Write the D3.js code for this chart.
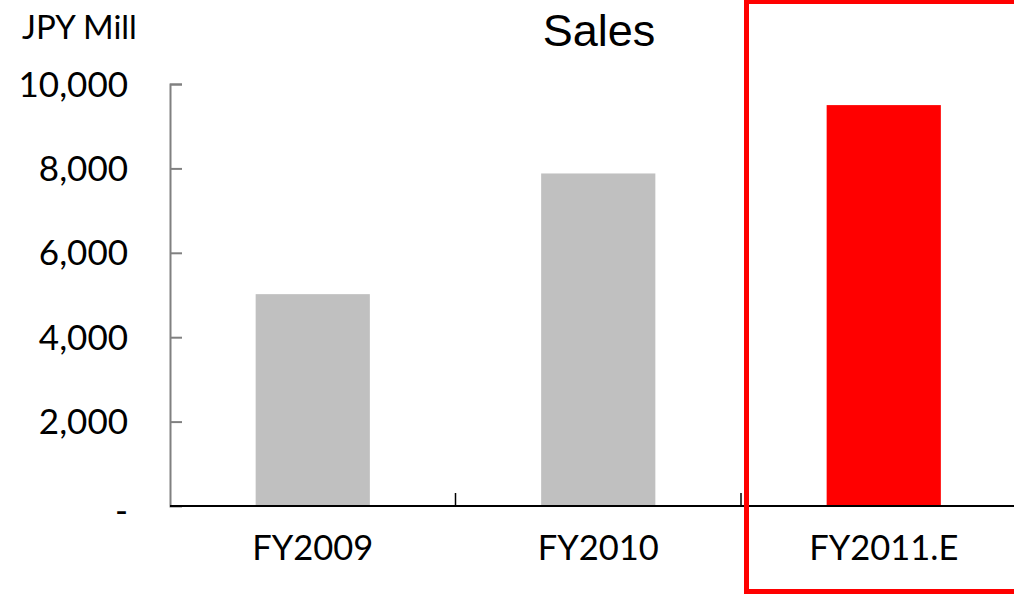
<!DOCTYPE html>
<html>
<head>
<meta charset="utf-8">
<script src="https://cdn.jsdelivr.net/npm/d3@7"></script>
<style>
  body { margin: 0; background: #fff; }
  svg { display: block; }
</style>
</head>
<body>
<div id="chart"></div>
<script>
const categories = ["FY2009", "FY2010", "FY2011.E"];
const sales = [5020, 7880, 9500];
const barColors = ["#c0c0c0", "#c0c0c0", "#ff0000"];
const yTicks = [0, 2000, 4000, 6000, 8000, 10000];
const highlight = "FY2011.E";

const W = 1014, H = 595;
const plot = { left: 170, right: 1026.5, top: 84, bottom: 506 };

const svg = d3.select("#chart").append("svg")
    .attr("width", W)
    .attr("height", H);

const x = d3.scaleBand()
    .domain(categories)
    .range([plot.left, plot.right])
    .paddingInner(0.6)
    .paddingOuter(0.3);

const y = d3.scaleLinear()
    .domain([0, 10000])
    .range([plot.bottom, plot.top]);

const fmt = d => d === 0 ? "-" : d3.format(",")(d);

// bars
svg.selectAll(".bar")
    .data(categories)
    .enter().append("rect")
    .attr("class", "bar")
    .attr("x", d => x(d))
    .attr("width", x.bandwidth())
    .attr("y", (d, i) => y(sales[i]))
    .attr("height", (d, i) => y(0) - y(sales[i]))
    .attr("fill", (d, i) => barColors[i]);

// y axis: gray line, inside ticks
const yAxis = svg.append("g")
    .attr("transform", `translate(${plot.left},0)`)
    .call(d3.axisRight(y).tickValues(yTicks).tickSize(12).tickFormat(""));
yAxis.select(".domain").attr("stroke", "#808080").attr("stroke-width", 2);
yAxis.selectAll(".tick line").attr("stroke", "#808080").attr("stroke-width", 2);
yAxis.selectAll(".tick").filter(d => d === 0).remove();

// y tick labels
svg.selectAll(".ylab")
    .data(yTicks)
    .enter().append("text")
    .attr("class", "ylab")
    .attr("x", 128)
    .attr("y", d => y(d) + (d === 0 ? 4 : 0))
    .attr("dy", "0.36em")
    .attr("text-anchor", "end")
    .style("font-family", "Lato, sans-serif")
    .style("font-size", "35px")
    .attr("fill", "#000")
    .text(fmt);

// x axis line
svg.append("line")
    .attr("x1", plot.left).attr("x2", W)
    .attr("y1", plot.bottom).attr("y2", plot.bottom)
    .attr("stroke", "#000").attr("stroke-width", 2);

// category boundary ticks
const step = x.step();
svg.selectAll(".xtick")
    .data(categories.slice(1))
    .enter().append("line")
    .attr("class", "xtick")
    .attr("x1", d => x(d) - step * 0.3)
    .attr("x2", d => x(d) - step * 0.3)
    .attr("y1", plot.bottom - 13)
    .attr("y2", plot.bottom)
    .attr("stroke", "#000")
    .attr("stroke-width", 1.5);

// category labels
svg.selectAll(".xlab")
    .data(categories)
    .enter().append("text")
    .attr("class", "xlab")
    .attr("x", d => x(d) + x.bandwidth() / 2)
    .attr("y", 560)
    .attr("text-anchor", "middle")
    .style("font-family", "Lato, sans-serif")
    .style("font-size", "34.5px")
    .attr("fill", "#000")
    .text(d => d);

// title and unit
svg.append("text")
    .attr("x", 599).attr("y", 46)
    .attr("text-anchor", "middle")
    .style("font-family", "'Liberation Sans', Arial, sans-serif")
    .style("font-size", "45px")
    .text("Sales");

svg.append("text")
    .attr("x", 22).attr("y", 39)
    .style("font-family", "Lato, sans-serif")
    .style("font-size", "33px")
    .text("JPY Mill");

// highlight frame around the estimate
const hx = x(highlight) - step * 0.3;
svg.append("rect")
    .attr("x", hx + 5.5)
    .attr("y", 1.5)
    .attr("width", 400)
    .attr("height", 590)
    .attr("fill", "none")
    .attr("stroke", "#ff0000")
    .attr("stroke-width", 5);
</script>
</body>
</html>
